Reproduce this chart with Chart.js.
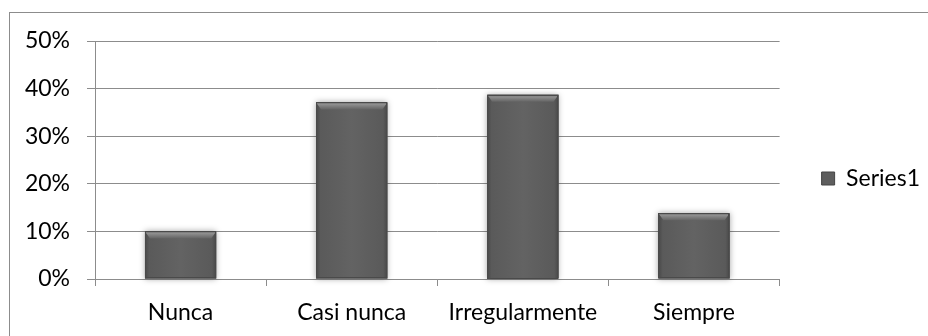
<!DOCTYPE html>
<html>
<head>
<meta charset="utf-8">
<script src="https://cdn.jsdelivr.net/npm/chart.js@4/dist/chart.umd.min.js"></script>
<style>
  html, body { margin: 0; padding: 0; background: #fff; }
  #wrap { width: 928px; height: 336px; }
</style>
</head>
<body>
<div id="wrap"><canvas id="myChart" width="928" height="336"></canvas></div>
<script>
const categories = ['Nunca', 'Casi nunca', 'Irregularmente', 'Siempre']
const series1 = [10, 37.1, 38.7, 13.8]
const yTicks = [0, 10, 20, 30, 40, 50]

const barColor = '#5e5e5e'
const lineColor = '#8c8c8c'
const fontFamily = 'Lato'
const fontSize = 23

// outer frame of the chart object, and legend nudged away from the plot
const framePlugin = {
  id: 'frame',
  beforeDraw(chart) {
    const ctx = chart.ctx
    ctx.save()
    ctx.fillStyle = '#fff'
    ctx.fillRect(0, 0, chart.width, chart.height)
    ctx.strokeStyle = lineColor
    ctx.lineWidth = 1
    ctx.strokeRect(9.5, 12.5, chart.width + 20, chart.height + 20)
    ctx.restore()

    const legend = chart.legend
    legend.left += 32
    legend.right += 32
    legend.top -= 10
    legend.bottom -= 10
  }
}

// soft shadow + bevel on each bar
const bevelPlugin = {
  id: 'bevel',
  beforeDatasetsDraw(chart) {
    const ctx = chart.ctx
    chart.getDatasetMeta(0).data.forEach(bar => {
      const left = bar.x - bar.width / 2
      const h = bar.base - bar.y
      ctx.save()
      ctx.shadowColor = 'rgba(0,0,0,0.35)'
      ctx.shadowBlur = 6
      ctx.fillStyle = barColor
      ctx.fillRect(left, bar.y, bar.width, h)
      ctx.restore()
    })
  },
  afterDatasetsDraw(chart) {
    const ctx = chart.ctx
    chart.getDatasetMeta(0).data.forEach(bar => {
      const left = bar.x - bar.width / 2
      const right = bar.x + bar.width / 2
      const top = bar.y
      const bottom = bar.base
      const w = bar.width
      ctx.save()
      // side shading
      const g = ctx.createLinearGradient(left, 0, right, 0)
      g.addColorStop(0, '#484848')
      g.addColorStop(0.06, '#5a5a5a')
      g.addColorStop(0.5, '#636363')
      g.addColorStop(0.94, '#5a5a5a')
      g.addColorStop(1, '#484848')
      ctx.fillStyle = g
      ctx.fillRect(left, top, w, bottom - top)
      // top bevel
      const bh = 7
      const tg = ctx.createLinearGradient(0, top, 0, top + bh)
      tg.addColorStop(0, '#6e6e6e')
      tg.addColorStop(0.3, '#8e8e8e')
      tg.addColorStop(1, '#646464')
      ctx.fillStyle = tg
      ctx.beginPath()
      ctx.moveTo(left, top)
      ctx.lineTo(right, top)
      ctx.lineTo(right - 5, top + bh)
      ctx.lineTo(left + 5, top + bh)
      ctx.closePath()
      ctx.fill()
      // outline
      ctx.strokeStyle = '#4a4a4a'
      ctx.lineWidth = 1
      ctx.strokeRect(Math.round(left) + 0.5, Math.round(top) + 0.5, Math.round(w) - 1, Math.round(bottom - top) - 1)
      ctx.restore()
    })
  }
}

const ctx = document.getElementById('myChart').getContext('2d')

new Chart(ctx, {
  type: 'bar',
  data: {
    labels: categories,
    datasets: [
      {
        label: 'Series1',
        data: series1,
        backgroundColor: barColor,
        borderWidth: 0,
        categoryPercentage: 1,
        barPercentage: 0.416
      }
    ]
  },
  options: {
    responsive: false,
    animation: false,
    devicePixelRatio: 1,
    layout: { padding: { top: 41, right: 30, left: 0, bottom: 0 } },
    plugins: {
      tooltip: { enabled: false },
      legend: {
        position: 'right',
        align: 'center',
        labels: {
          color: '#000',
          font: { family: fontFamily, size: fontSize },
          boxWidth: 13,
          boxHeight: 13,
          padding: 10,
          generateLabels: () => [{
            text: 'Series1',
            fillStyle: barColor,
            strokeStyle: '#444',
            lineWidth: 1,
            datasetIndex: 0
          }]
        }
      }
    },
    scales: {
      x: {
        afterFit: scale => { scale.height = 57 },
        grid: {
          offset: true,
          drawOnChartArea: false,
          drawTicks: true,
          tickLength: 7,
          color: lineColor
        },
        border: { color: lineColor },
        ticks: {
          color: '#000',
          padding: 13,
          font: { family: fontFamily, size: fontSize }
        }
      },
      y: {
        min: 0,
        max: 50,
        afterFit: scale => { scale.width = 95 },
        afterBuildTicks: scale => { scale.ticks = yTicks.map(v => ({ value: v })) },
        grid: {
          color: lineColor,
          tickLength: 8
        },
        border: { color: lineColor },
        ticks: {
          color: '#000',
          padding: 17,
          font: { family: fontFamily, size: fontSize },
          callback: v => v + '%'
        }
      }
    }
  },
  plugins: [framePlugin, bevelPlugin]
})
</script>
</body>
</html>
